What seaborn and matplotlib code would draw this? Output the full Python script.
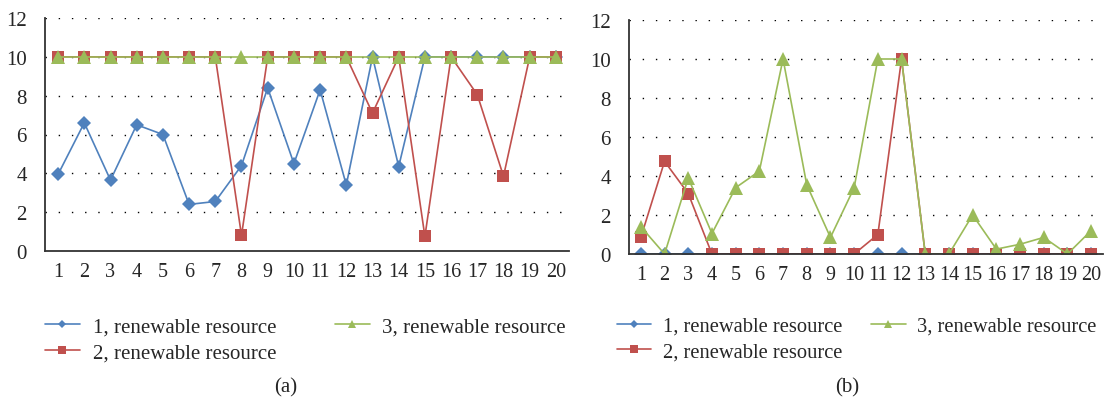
import numpy as np
import pandas as pd
import matplotlib
matplotlib.use("Agg")
import matplotlib.pyplot as plt
import seaborn as sns

# data
periods = list(range(1, 21))
labels = ["1, renewable resource", "2, renewable resource", "3, renewable resource"]

a_res1 = [3.95, 6.6, 3.65, 6.5, 6.0, 2.4, 2.55, 4.4, 8.4, 4.5, 8.3, 3.4, 10, 4.35, 10, 10, 10, 10, 10, 10]
a_res2 = [10, 10, 10, 10, 10, 10, 10, 0.8, 10, 10, 10, 10, 7.1, 10, 0.75, 10, 8.05, 3.85, 10, 10]
a_res3 = [10] * 20

b_res1 = [0] * 20
b_res2 = [0.85, 4.75, 3.1, 0, 0, 0, 0, 0, 0, 0, 1.0, 10, 0, 0, 0, 0, 0, 0, 0, 0]
b_res3 = [1.4, 0, 3.9, 1.05, 3.4, 4.25, 10, 3.55, 0.85, 3.4, 10, 10, 0, 0, 2.0, 0.25, 0.5, 0.85, 0, 1.2]

colors = {labels[0]: "#4F81BD", labels[1]: "#C0504D", labels[2]: "#9BBB59"}
markers = {labels[0]: "D", labels[1]: "s", labels[2]: "^"}
msizes = {labels[0]: 7, labels[1]: 9, labels[2]: 10}


def long_df(s1, s2, s3):
    frames = []
    for lab, vals in zip(labels, [s1, s2, s3]):
        frames.append(pd.DataFrame({"period": periods, "value": vals, "resource": lab}))
    return pd.concat(frames, ignore_index=True)


sns.set_style("white")
plt.rcParams['font.family'] = ['Liberation Serif', 'DejaVu Serif']
plt.rcParams['font.size'] = 15

fig = plt.figure(figsize=(11.05, 4.02), dpi=100)
ax_a = fig.add_axes([45 / 1105, 1 - 252 / 402, 524 / 1105, 233 / 402])
ax_b = fig.add_axes([629 / 1105, 1 - 255 / 402, 474 / 1105, 234 / 402])

for ax, data in [(ax_a, long_df(a_res1, a_res2, a_res3)), (ax_b, long_df(b_res1, b_res2, b_res3))]:
    for lab in labels:
        sub = data[data.resource == lab]
        sns.lineplot(data=sub, x="period", y="value", ax=ax, color=colors[lab],
                     marker=markers[lab], markersize=msizes[lab], markeredgewidth=0,
                     linewidth=1.2, label=lab, legend=False)
    ax.set_xlim(0.5, 20.5)
    ax.set_ylim(0, 12)
    ax.set_yticks(np.arange(0, 13, 2))
    ax.set_xticks(periods)
    ax.set_xticks(np.arange(0.5, 21, 1), minor=True)
    ax.tick_params(axis="x", which="major", length=0, pad=8, labelsize=14.5)
    ax.tick_params(axis="x", which="minor", length=5, width=1.2, color="#333333", direction="out")
    ax.tick_params(axis="y", which="major", length=5, width=1.2, color="#333333", direction="out",
                   labelsize=15, pad=8)
    ax.set_xlabel("")
    ax.set_ylabel("")
    for side in ["top", "right"]:
        ax.spines[side].set_visible(False)
    for side in ["left", "bottom"]:
        ax.spines[side].set_color("#333333")
        ax.spines[side].set_linewidth(1.3)
    for y in range(2, 13, 2):
        ax.axhline(y, color="black", linewidth=1.0, linestyle=(0, (1, 8.5)), zorder=0)

h, l = ax_a.get_legend_handles_labels()
fig.legend(h, l, ncol=2, loc="upper left", bbox_to_anchor=(26 / 1105, 1 - 299 / 402),
           frameon=False, handlelength=1.7, handletextpad=0.6, columnspacing=2.8,
           labelspacing=0.3, markerscale=0.6, fontsize=15)
fig.legend(h, l, ncol=2, loc="upper left", bbox_to_anchor=(598 / 1105, 1 - 299 / 402),
           frameon=False, handlelength=1.7, handletextpad=0.55, columnspacing=1.4,
           labelspacing=0.3, markerscale=0.6, fontsize=14.8)

fig.text(286 / 1105, 1 - 388 / 402, "(a)", ha="center", va="center", fontsize=15)
fig.text(847 / 1105, 1 - 388 / 402, "(b)", ha="center", va="center", fontsize=15)

fig.savefig("out.png", dpi=100)
